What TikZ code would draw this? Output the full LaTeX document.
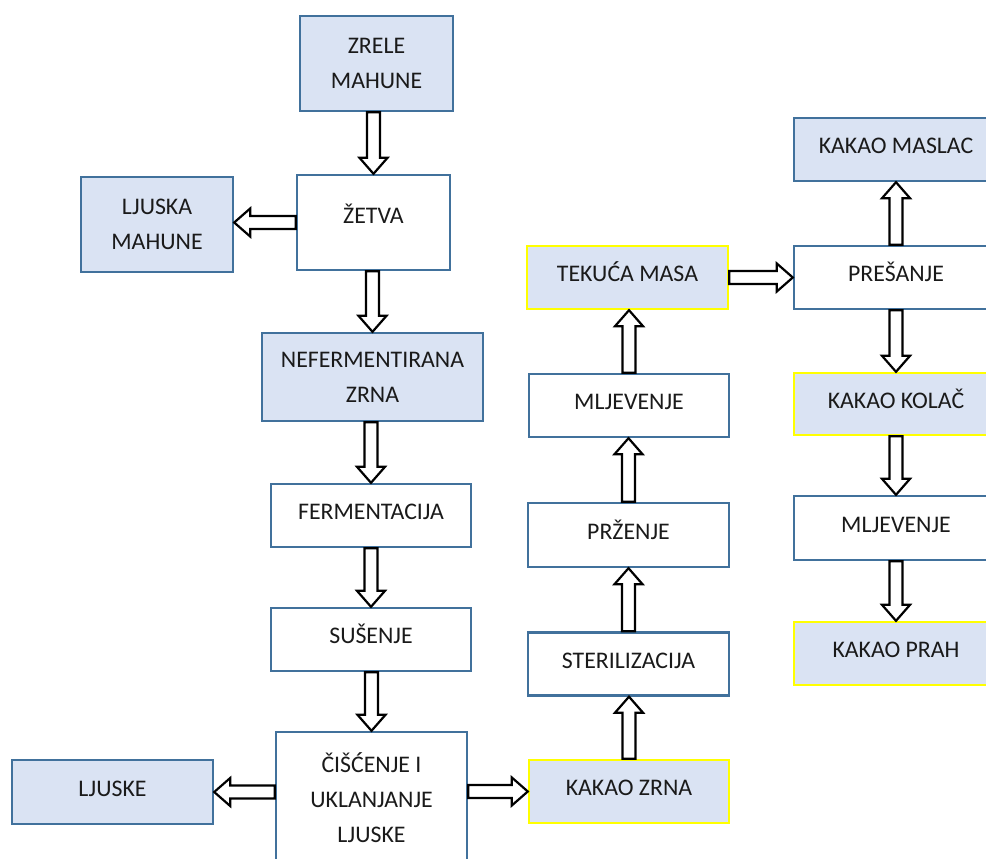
\documentclass[tikz,border=0pt]{standalone}
\usepackage{fontspec}
\setmainfont{Carlito}
\usetikzlibrary{calc}
\definecolor{boxblue}{HTML}{41719C}
\definecolor{fillblue}{HTML}{DAE3F3}
\definecolor{hiyellow}{HTML}{FFFF00}
\definecolor{txt}{HTML}{1A1A1A}
\tikzset{
  base/.style={draw=boxblue, line width=2.4pt, fill=white, text=txt, inner sep=0pt,
    font=\fontsize{23.8}{35}\selectfont, align=center},
  one/.style={base, text height=15pt, text depth=7pt},
  two/.style={base},
  prod/.style={fill=fillblue},
  key/.style={fill=fillblue, draw=hiyellow},
  barr/.style={draw=black, fill=white, line width=2.2pt, line join=miter},
}
\newcommand{\barrow}[2]{%
  \path (#1) coordinate (bA) (#2) coordinate (bB);
  \path ($(bB)!16pt!(bA)$) coordinate (bH);
  \draw[barr] ($(bA)!6.5pt!90:(bB)$) -- ($(bH)!6.5pt!90:(bB)$) -- ($(bH)!14pt!90:(bB)$)
    -- (bB) -- ($(bH)!14pt!-90:(bB)$) -- ($(bH)!6.5pt!-90:(bB)$) -- ($(bA)!6.5pt!-90:(bB)$) -- cycle;}
\begin{document}
\begin{tikzpicture}[x=1pt,y=-1pt]
\useasboundingbox[fill=white] (0,0) rectangle (986,859);
% left column
\node[two, prod, minimum width=153pt, minimum height=95pt] (zrele) at (376.5,63.5) {ZRELE\\MAHUNE};
\node[one, text depth=14pt, minimum width=153pt, minimum height=95pt] (zetva) at (373.5,222.5) {ŽETVA};
\node[two, prod, minimum width=152pt, minimum height=95pt] (ljmah) at (157,224.5) {LJUSKA\\MAHUNE};
\node[two, prod, minimum width=221pt, minimum height=88pt] (nef) at (372.5,377) {NEFERMENTIRANA\\ZRNA};
\node[one, minimum width=200pt, minimum height=63pt] (ferm) at (371,515.5) {FERMENTACIJA};
\node[one, minimum width=200pt, minimum height=63pt] (sus) at (371,639.5) {SUŠENJE};
\node[two, minimum width=191pt, minimum height=131pt] (cis) at (371.5,797.5) {ČIŠĆENJE I\\UKLANJANJE\\LJUSKE};
\node[one, prod, minimum width=201pt, minimum height=64pt] (ljuske) at (112.5,792) {LJUSKE};
% middle column
\node[one, key, minimum width=200pt, minimum height=63pt] (kzrna) at (629,791.5) {KAKAO ZRNA};
\node[one, minimum width=201pt, minimum height=63pt] (ster) at (628.5,664) {STERILIZACIJA};
\node[one, minimum width=201pt, minimum height=64pt] (prz) at (628.5,535) {PRŽENJE};
\node[one, minimum width=200pt, minimum height=63pt] (mlj1) at (629,405.5) {MLJEVENJE};
\node[one, key, minimum width=201pt, minimum height=63pt] (tek) at (627.5,277.5) {TEKUĆA MASA};
% right column
\node[one, minimum width=204pt, minimum height=63pt] (pres) at (896,277.5) {PREŠANJE};
\node[one, prod, minimum width=204pt, minimum height=63pt] (maslac) at (896,149.5) {KAKAO MASLAC};
\node[one, key, minimum width=204pt, minimum height=62pt] (kolac) at (896,404) {KAKAO KOLAČ};
\node[one, minimum width=204pt, minimum height=64pt] (mlj2) at (896,528) {MLJEVENJE};
\node[one, key, minimum width=204pt, minimum height=63pt] (prah) at (896,653.5) {KAKAO PRAH};
% arrows
\barrow{zetva.north |- zrele.south}{zetva.north}
\barrow{zetva.west}{zetva.west -| ljmah.east}
\barrow{nef.north |- zetva.south}{nef.north}
\barrow{ferm.north |- nef.south}{ferm.north}
\barrow{sus.north |- ferm.south}{sus.north}
\barrow{cis.north |- sus.south}{cis.north}
\barrow{cis.west |- ljuske.west}{ljuske.east}
\barrow{cis.east |- kzrna.west}{kzrna.west}
\barrow{kzrna.north}{kzrna.north |- ster.south}
\barrow{ster.north}{ster.north |- prz.south}
\barrow{prz.north}{prz.north |- mlj1.south}
\barrow{mlj1.north}{mlj1.north |- tek.south}
\barrow{tek.east}{tek.east -| pres.west}
\barrow{pres.north}{maslac.south}
\barrow{pres.south}{kolac.north}
\barrow{kolac.south}{mlj2.north}
\barrow{mlj2.south}{prah.north}
\end{tikzpicture}
\end{document}
